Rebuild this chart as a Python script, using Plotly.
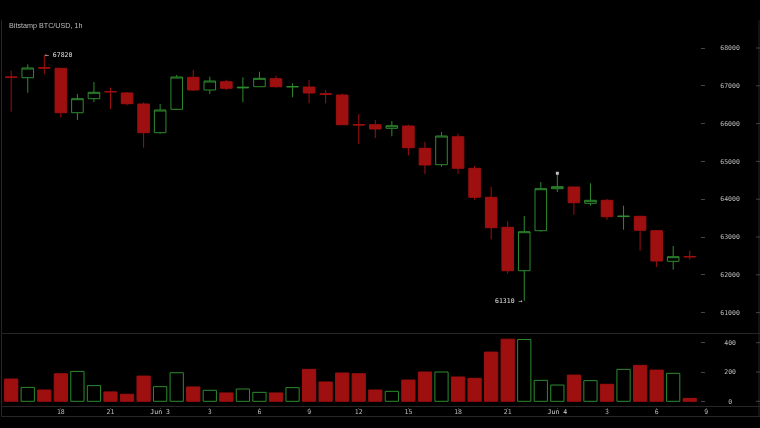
import plotly.graph_objs as go

# hourly candles, Jun 2 15:00 to Jun 4 08:00
hours = list(range(42))
opens = [67235, 67214, 67480, 67463, 66288, 66659, 66850, 66810, 66519, 65759, 66378, 67225, 66889, 67108,
         66945, 66976, 67188, 66970, 66968, 66790, 66757, 65975, 65971, 65876, 65937, 65347, 64913, 65653,
         64817, 64050, 63257, 62108, 63167, 64278, 64323, 63892, 63971, 63540, 63547, 63167, 62357, 62485]
highs = [67399, 67569, 67820, 67463, 66783, 67101, 66950, 66836, 66563, 66519, 67286, 67418, 67241, 67161,
         67225, 67373, 67267, 67066, 67153, 66889, 66791, 66254, 66095, 66069, 65971, 65521, 65778, 65733,
         64878, 64331, 63415, 63555, 64455, 64685, 64323, 64421, 64005, 63828, 63563, 63185, 62762, 62638]
lows = [66315, 66817, 67304, 66167, 66095, 66571, 66386, 66484, 65362, 65733, 66360, 66862, 66783, 66889,
        66563, 66976, 66950, 66696, 66537, 66537, 65971, 65460, 65619, 65664, 65161, 64667, 64860, 64675,
        63987, 62939, 62029, 61310, 63140, 64190, 63590, 63828, 63450, 63193, 62638, 62206, 62135, 62400]
closes = [67225, 67471, 67471, 66288, 66659, 66828, 66840, 66527, 65759, 66360, 67233, 66889, 67127, 66934,
          66960, 67198, 66976, 66980, 66810, 66775, 65971, 65965, 65857, 65944, 65362, 64905, 65672, 64817,
          64050, 63246, 62108, 63140, 64278, 64331, 63907, 63971, 63537, 63550, 63177, 62365, 62479, 62475]
volumes = [152, 95, 77, 188, 204, 107, 64, 48, 172, 100, 195, 98, 75, 57, 84, 61, 57, 93, 218, 132, 193,
           188, 77, 68, 145, 200, 200, 166, 157, 336, 424, 422, 143, 111, 179, 141, 116, 218, 245, 213, 191, 20]

price_ticks = [61000, 62000, 63000, 64000, 65000, 66000, 67000, 68000]
volume_ticks = [0, 200, 400]
volume_labels = ['\u00a00', '200', '400']
time_ticks = [3, 6, 9, 12, 15, 18, 21, 24, 27, 30, 33, 36, 39, 42]
day_color = '#d8d8d8'
time_labels = ['18', '21', '<span style="color:%s">Jun 3</span>' % day_color, '3', '6', '9', '12', '15', '18', '21',
               '<span style="color:%s">Jun 4</span>' % day_color, '3', '6', '9']

RED = '#9e1010'
GREEN = '#2e8b2e'
TEXT = '#bcbcbc'
FRAME = '#262626'
MONO = 'DejaVu Sans Mono'

W = 760.0
H = 428.0


def py(y):
    return 1 - y / H


bar_fill = [RED if c < o else '#000000' for o, c in zip(opens, closes)]
bar_line = [RED if c < o else GREEN for o, c in zip(opens, closes)]

candles = go.Candlestick(x=hours, open=opens, high=highs, low=lows, close=closes,
                         xaxis='x2', yaxis='y',
                         increasing=dict(line=dict(color=GREEN, width=1), fillcolor='#000000'),
                         decreasing=dict(line=dict(color=RED, width=1), fillcolor=RED),
                         whiskerwidth=0, showlegend=False)

bars = go.Bar(x=hours, y=volumes, xaxis='x', yaxis='y2', width=0.8,
              marker=dict(color=bar_fill, line=dict(color=bar_line, width=1)),
              showlegend=False)

# small pale dot left on top of the Jun 4 02:00 wick
dot = go.Scatter(x=[hours[33]], y=[highs[33]], xaxis='x2', yaxis='y', mode='markers',
                 marker=dict(symbol='square', size=3, color='#c0c0c0'), showlegend=False)

x_range = [-11.2 / 16.55, (W - 11.2) / 16.55]

layout = go.Layout(
    width=760, height=428,
    margin=dict(l=0, r=0, t=0, b=0),
    paper_bgcolor='#000000', plot_bgcolor='#000000',
    boxgap=0, bargap=0.2,
    xaxis=dict(domain=[0, 1], anchor='y2', range=x_range, tickmode='array',
               tickvals=time_ticks, ticktext=time_labels, showgrid=False, zeroline=False,
               ticks='outside', ticklen=1, tickcolor='#444444', ticklabelstandoff=-2,
               tickfont=dict(family=MONO, size=6.5, color=TEXT), rangeslider=dict(visible=False)),
    xaxis2=dict(domain=[0, 1], anchor='y', range=x_range, matches='x', visible=False,
                rangeslider=dict(visible=False)),
    yaxis=dict(domain=[py(333.5), py(20)], range=[60447, 68741], anchor='free', position=700 / W,
               side='right', tickmode='array', tickvals=price_ticks, ticktext=[str(t) for t in price_ticks],
               showgrid=False, zeroline=False, ticks='outside', ticklen=4, tickcolor='#444444',
               ticklabelstandoff=14, tickfont=dict(family=MONO, size=6.5, color=TEXT)),
    yaxis2=dict(domain=[py(406.5), py(333.5)], range=[-35.5, 462.8], anchor='free', position=700 / W,
                side='right', tickmode='array', tickvals=volume_ticks, ticktext=volume_labels,
                showgrid=False, zeroline=False, ticks='outside', ticklen=4, tickcolor='#444444',
                ticklabelstandoff=18, tickfont=dict(family=MONO, size=6.5, color=TEXT)),
    annotations=[
        dict(text='Bitstamp BTC/USD, 1h', xref='paper', yref='paper', x=6.5 / W, y=py(25), showarrow=False,
             xanchor='left', yanchor='middle', font=dict(family='Liberation Sans', size=7.2, color=TEXT)),
        dict(text='\u2190 %d' % highs[2], xref='x2', yref='y', x=hours[2], y=highs[2], showarrow=False,
             xanchor='left', yanchor='middle', xshift=-1, font=dict(family=MONO, size=6.5, color='#e0e0e0')),
        dict(text='%d \u2192' % lows[31], xref='x2', yref='y', x=hours[31], y=lows[31], showarrow=False,
             xanchor='right', yanchor='middle', xshift=0, font=dict(family=MONO, size=6.5, color='#e0e0e0')),
    ],
)

fig = go.Figure(data=[bars, candles, dot], layout=layout)

# pane frame lines
frame = dict(color=FRAME, width=1)
fig.add_shape(type='line', xref='paper', yref='paper', x0=1.5 / W, x1=1.5 / W, y0=py(416.5), y1=py(20), line=frame)
fig.add_shape(type='line', xref='paper', yref='paper', x0=759 / W, x1=759 / W, y0=py(416.5), y1=py(20), line=frame)
for yy in [333.5, 406.5, 416.5]:
    fig.add_shape(type='line', xref='paper', yref='paper', x0=1.5 / W, x1=1, y0=py(yy), y1=py(yy), line=frame)

# short ticks on the right edge
for t in price_ticks:
    fig.add_shape(type='line', xref='paper', yref='y', x0=756 / W, x1=1, y0=t, y1=t,
                  line=dict(color='#444444', width=1))
for t in volume_ticks:
    fig.add_shape(type='line', xref='paper', yref='y2', x0=756 / W, x1=1, y0=t, y1=t,
                  line=dict(color='#444444', width=1))

# page margin off, and a composited layer so the small text stays grey
page_js = "document.body.style.margin='0';document.body.style.background='#000';" \
          "document.body.style.overflow='hidden';" \
          "document.querySelector('.plotly-graph-div').style.willChange='transform';"
fig.write_html("out.html", post_script=page_js, config=dict(displayModeBar=False))
